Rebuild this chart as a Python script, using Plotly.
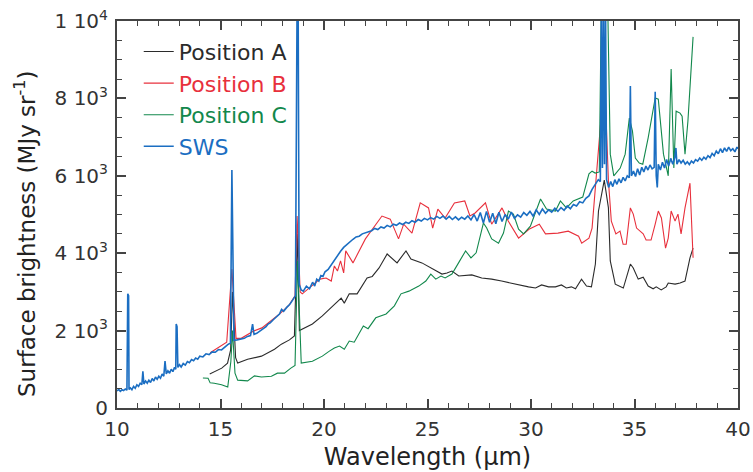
import plotly.graph_objects as go

# ---------------- data ----------------
sws_wl = [10.00, 10.08, 10.16, 10.24, 10.32, 10.40, 10.48, 10.52, 10.56, 10.58, 10.65, 10.72, 10.80,
          10.88, 10.96, 11.04, 11.12, 11.20, 11.25, 11.30, 11.38, 11.46, 11.54, 11.62, 11.70, 11.78,
          11.86, 11.94, 12.02, 12.10, 12.18, 12.26, 12.32, 12.38, 12.46, 12.54, 12.62, 12.70, 12.78,
          12.84, 12.86, 12.90, 12.94, 13.02, 13.10, 13.20, 13.30, 13.40, 13.50, 13.60, 13.70, 13.80,
          13.90, 14.00, 14.15, 14.30, 14.45, 14.60, 14.75, 14.90, 15.05, 15.20, 15.35, 15.48, 15.55,
          15.60, 15.65, 15.80, 16.00, 16.15, 16.30, 16.45, 16.55, 16.62, 16.75, 16.90, 17.05, 17.20,
          17.30, 17.40, 17.55, 17.70, 17.85, 17.95, 18.05, 18.20, 18.35, 18.50, 18.62, 18.70, 18.75,
          18.80, 18.90, 19.00, 19.15, 19.30, 19.45, 19.55, 19.65, 19.75, 19.85, 19.95, 20.05, 20.20,
          20.35, 20.50, 20.65, 20.80, 20.95, 21.10, 21.25, 21.40, 21.55, 21.70, 21.85, 22.00, 22.15,
          22.30, 22.45, 22.60, 22.75, 22.90, 23.05, 23.20, 23.35, 23.50, 23.65, 23.80, 23.95, 24.10,
          24.25, 24.40, 24.55, 24.70, 24.85, 25.00, 25.15, 25.30, 25.45, 25.60, 25.75, 25.90, 26.05,
          26.20, 26.35, 26.50, 26.65, 26.80, 26.95, 27.10, 27.25, 27.40, 27.55, 27.70, 27.85, 28.00,
          28.15, 28.30, 28.45, 28.60, 28.75, 28.90, 29.05, 29.20, 29.35, 29.50, 29.65, 29.80, 29.95,
          30.10, 30.25, 30.40, 30.55, 30.70, 30.85, 31.00, 31.15, 31.30, 31.45, 31.60, 31.75, 31.90,
          32.05, 32.20, 32.35, 32.50, 32.65, 32.80, 32.95, 33.10, 33.25, 33.35, 33.40, 33.45, 33.50,
          33.55, 33.60, 33.65, 33.75, 33.85, 33.95, 34.05, 34.15, 34.25, 34.35, 34.45, 34.55, 34.65,
          34.75, 34.80, 34.85, 34.95, 35.05, 35.15, 35.25, 35.35, 35.45, 35.55, 35.65, 35.75, 35.85,
          35.95, 36.00, 36.05, 36.10, 36.15, 36.25, 36.35, 36.45, 36.55, 36.65, 36.75, 36.85, 36.95,
          37.00, 37.05, 37.15, 37.25, 37.35, 37.45, 37.55, 37.65, 37.75, 37.85, 37.95, 38.05, 38.15,
          38.25, 38.35, 38.45, 38.55, 38.65, 38.75, 38.85, 38.95, 39.05, 39.15, 39.25, 39.35, 39.45,
          39.55, 39.65, 39.75, 39.85, 39.95, 40.00]
sws_val = [440, 480, 430, 470, 450, 490, 460, 2950, 2900, 480, 520, 470, 560,
           510, 600, 560, 640, 600, 950, 620, 700, 640, 720, 660, 760, 700,
           800, 740, 820, 770, 880, 820, 1210, 880, 960, 900, 1000, 940, 1050,
           1000, 2170, 2100, 1050, 1120, 1060, 1150, 1110, 1200, 1170, 1250, 1220, 1290,
           1260, 1340, 1320, 1400, 1380, 1450, 1440, 1510, 1500, 1580, 1640, 1680, 6150,
           4000, 1750, 1760, 1780, 1800, 1850, 1870, 2170, 1900, 1930, 1990, 2040, 2100,
           2170, 2200, 2280, 2350, 2430, 2550, 2500, 2600, 2680, 2800, 2900, 10500, 10500,
           3200, 3050, 3020, 3150, 3080, 3250, 3150, 3330, 3280, 3420, 3400, 3520, 3580,
           3700, 3820, 3950, 4050, 4150, 4220, 4310, 4360, 4420, 4440, 4500, 4530, 4560,
           4580, 4640, 4610, 4680, 4650, 4720, 4680, 4750, 4720, 4780, 4740, 4800, 4770,
           4840, 4800, 4870, 4830, 4900, 4860, 4920, 4880, 4950, 4900, 4960, 4880, 4950,
           4870, 4940, 4860, 4930, 4880, 4960, 4860, 5000, 4830, 5050, 4780, 5080, 4800,
           5030, 4760, 5060, 4820, 5000, 4880, 5060, 4900, 4990, 4930, 5050, 4980, 5080,
           4960, 5120, 5000, 5140, 5030, 5120, 5060, 5160, 5080, 5180, 5110, 5220, 5150,
           5260, 5220, 5330, 5300, 5420, 5480, 5650, 5780, 5900, 5850, 10500, 6200, 10500,
           6300, 10500, 5900, 5700, 5850, 5720, 5900, 5780, 5920, 5820, 5960, 5870, 6000,
           5950, 8320, 6000, 6120, 5980, 6180, 6020, 6220, 6100, 6250, 6150, 6280, 6180,
           6220, 8170, 6000, 5700, 6300, 6150, 6350, 6200, 6420, 6250, 6450, 6300, 6480,
           6720, 6300, 6420, 6330, 6400, 6300, 6360, 6290, 6380, 6330, 6420, 6380, 6460,
           6400, 6480, 6430, 6520, 6470, 6580, 6520, 6640, 6570, 6700, 6600, 6720, 6630,
           6740, 6650, 6700, 6620, 6740, 6700]

a_wl = [14.48, 15.06, 15.34, 15.49, 15.58, 15.73, 15.83, 16.31, 16.98, 17.61, 17.94, 18.33, 18.57,
        18.71, 18.81, 18.96, 19.44, 19.92, 20.26, 20.50, 20.83, 20.98, 21.22, 21.60, 22.08, 22.33,
        22.66, 23.05, 23.53, 23.96, 24.20, 24.73, 25.41, 25.70, 25.94, 26.18, 26.51, 27.14, 27.62,
        28.10, 28.58, 29.26, 29.55, 29.88, 30.22, 30.51, 30.85, 31.18, 31.47, 31.71, 31.95, 32.15,
        32.44, 32.68, 32.92, 33.11, 33.26, 33.54, 33.74, 33.83, 34.07, 34.31, 34.46, 34.80, 34.94,
        35.18, 35.42, 35.66, 35.90, 36.05, 36.29, 36.53, 36.63, 36.96, 37.20, 37.44, 37.68, 37.83]
a_val = [880, 1030, 1160, 1500, 3000, 1300, 1160, 1260, 1340, 1520, 1650, 1760, 1860,
         4500, 2000, 2040, 2170, 2380, 2560, 2690, 2840, 2710, 2950, 2950, 3360, 3400,
         3620, 3980, 3750, 4060, 3850, 3750, 3540, 3460, 3490, 3540, 3410, 3440, 3360,
         3330, 3280, 3200, 3150, 3130, 3100, 3180, 3130, 3130, 3180, 3100, 3130, 3080,
         3330, 3150, 3130, 3720, 5090, 5890, 5170, 3800, 3200, 3130, 3100, 3720, 3620,
         3330, 3380, 3150, 3080, 3130, 3050, 3130, 3230, 3200, 3230, 3280, 3880, 4130]

b_wl = [14.50, 15.30, 15.55, 15.75, 16.00, 16.60, 17.00, 17.50, 17.90, 18.30, 18.60, 18.70, 18.85,
        18.95, 19.30, 19.80, 20.10, 20.35, 20.50, 20.65, 20.80, 20.95, 21.05, 21.40, 22.00, 22.80,
        23.20, 23.60, 23.85, 24.25, 24.65, 25.05, 25.25, 25.50, 25.85, 26.30, 26.80, 27.05, 27.30,
        27.80, 28.10, 28.60, 28.90, 29.40, 29.90, 30.40, 30.70, 31.30, 31.80, 32.30, 32.45, 32.80,
        32.95, 33.10, 33.30, 33.55, 33.74, 33.88, 34.10, 34.30, 34.45, 34.60, 34.80, 34.94, 35.10,
        35.42, 35.56, 35.80, 36.00, 36.15, 36.30, 36.50, 36.63, 36.77, 36.96, 37.10, 37.25, 37.44,
        37.68, 37.83]
b_val = [1430, 1700, 3590, 1800, 1800, 1990, 2070, 2280, 2450, 2650, 2900, 4960, 3000,
         2950, 3100, 3330, 3360, 3280, 3670, 3540, 3800, 3490, 4060, 3750, 4370, 4960,
         4880, 4370, 4750, 4520, 5300, 5170, 4650, 5140, 4910, 5300, 5350, 4960, 5040,
         5300, 4750, 5170, 4830, 4390, 4620, 4750, 4500, 4520, 4570, 4440, 4260, 4390,
         4650, 5680, 7000, 8580, 5870, 4830, 4500, 4570, 4230, 4230, 5170, 5010, 4650,
         4500, 4340, 4340, 4750, 5090, 4910, 4130, 4390, 5090, 4830, 5010, 4500, 5170,
         5810, 3880]

c_wl = [14.15, 14.40, 14.50, 14.70, 15.05, 15.35, 15.50, 15.58, 15.70, 15.83, 16.31, 16.64, 16.98,
        17.46, 17.75, 18.09, 18.40, 18.60, 18.72, 18.90, 19.44, 19.92, 20.26, 20.50, 20.75, 20.98,
        21.22, 21.46, 21.90, 22.13, 22.50, 23.00, 23.40, 23.72, 24.10, 24.58, 24.92, 25.16, 25.40,
        25.65, 25.85, 26.18, 26.50, 26.84, 27.10, 27.35, 27.70, 27.86, 28.10, 28.43, 28.67, 28.91,
        29.15, 29.40, 29.64, 29.97, 30.46, 30.75, 31.18, 31.42, 31.71, 32.04, 32.50, 32.80, 32.95,
        33.10, 33.30, 33.40, 33.70, 33.83, 34.00, 34.31, 34.55, 34.75, 34.90, 35.04, 35.23, 35.40,
        35.66, 35.90, 36.00, 36.15, 36.40, 36.63, 36.77, 36.90, 37.01, 37.20, 37.30, 37.44, 37.58,
        37.83]
c_val = [775, 770, 650, 640, 600, 540, 1200, 2000, 900, 720, 700, 830, 800,
         820, 900, 900, 1030, 1100, 3800, 1160, 1210, 1340, 1470, 1550, 1600, 1520,
         1730, 1700, 2120, 2050, 2330, 2430, 2640, 2950, 3020, 3150, 3280, 3460, 3330,
         3410, 3360, 3460, 3750, 4060, 3880, 4010, 4780, 4650, 4370, 4260, 4520, 5090,
         5010, 4620, 4500, 4700, 5400, 5140, 5090, 5350, 5170, 5350, 5450, 6050, 6120,
         6070, 6100, 10600, 10600, 6560, 6000, 6200, 6560, 7490, 7160, 6460, 6330, 6300,
         6980, 7750, 8010, 7980, 6560, 6000, 8760, 6200, 7670, 7620, 7540, 6560, 7410,
         9590]

series_names = ["Position A", "Position B", "Position C", "SWS"]
series_colors = ["#2b2b2b", "#e8303c", "#12884c", "#1b6ec2"]
x_ticks = [10, 15, 20, 25, 30, 35, 40]
y_tickvals = [0, 2000, 4000, 6000, 8000, 10000]
y_ticktext = ["0", "2 10<sup>3</sup>", "4 10<sup>3</sup>", "6 10<sup>3</sup>",
              "8 10<sup>3</sup>", "1 10<sup>4</sup>"]

# ---------------- figure ----------------
FONT = "DejaVu Sans"
AXC = "#444444"
fig = go.Figure()
data = [(a_wl, a_val), (b_wl, b_val), (c_wl, c_val), (sws_wl, sws_val)]
widths = [1.1, 1.1, 1.1, 1.6]
for i, (xs, ys) in enumerate(data):
    fig.add_trace(go.Scatter(
        x=xs, y=ys, mode="lines",
        line=dict(color=series_colors[i], width=widths[i]),
        name=f"<span style='color:{series_colors[i]}'>{series_names[i]}</span>",
        legendgroup=f"g{i}",
    ))

axis_common = dict(
    showline=True, linecolor=AXC, linewidth=2, mirror="ticks",
    ticks="inside", ticklen=9, tickwidth=1.5, tickcolor=AXC,
    showgrid=False, zeroline=False, automargin=False,
    ticklabeloverflow="allow",
    tickfont=dict(family=FONT, size=20, color="#333333"),
)
fig.update_xaxes(
    range=[10, 40], tickvals=x_ticks, ticklabelstandoff=2,
    minor=dict(dtick=1, ticks="inside", ticklen=5, tickcolor=AXC, tickwidth=1),
    title=dict(text="Wavelength (µm)", font=dict(family=FONT, size=24, color="#222222"), standoff=8),
    **axis_common,
)
fig.update_yaxes(
    range=[0, 10000], tickvals=y_tickvals, ticktext=y_ticktext, ticklabelstandoff=3,
    minor=dict(dtick=500, ticks="inside", ticklen=5, tickcolor=AXC, tickwidth=1),
    **axis_common,
)
L, R, T, B = 117, 15, 21, 64
PW, PH = 753 - L - R, 472 - T - B
fig.add_annotation(
    text="Surface brightness (MJy sr<sup>-1</sup>)", textangle=-90,
    xref="paper", yref="paper", x=(25 - L) / PW, y=(472 - B - 234) / PH,
    xanchor="center", yanchor="middle", showarrow=False,
    font=dict(family=FONT, size=23, color="#222222"),
)
fig.update_layout(
    width=753, height=472,
    margin=dict(l=L, r=R, t=T, b=B),
    paper_bgcolor="white", plot_bgcolor="white",
    showlegend=True,
    legend=dict(x=0.035, y=0.975, xanchor="left", yanchor="top",
                bgcolor="rgba(0,0,0,0)", font=dict(family=FONT, size=22),
                tracegroupgap=0, itemwidth=30),
)
# remove the browser's default 8px page margin so the figure fills the window
fig.write_html(
    "out.html",
    config={"displayModeBar": False},
    post_script="document.body.style.margin='0';document.body.style.overflow='hidden';"
                "document.documentElement.style.overflow='hidden';",
)
